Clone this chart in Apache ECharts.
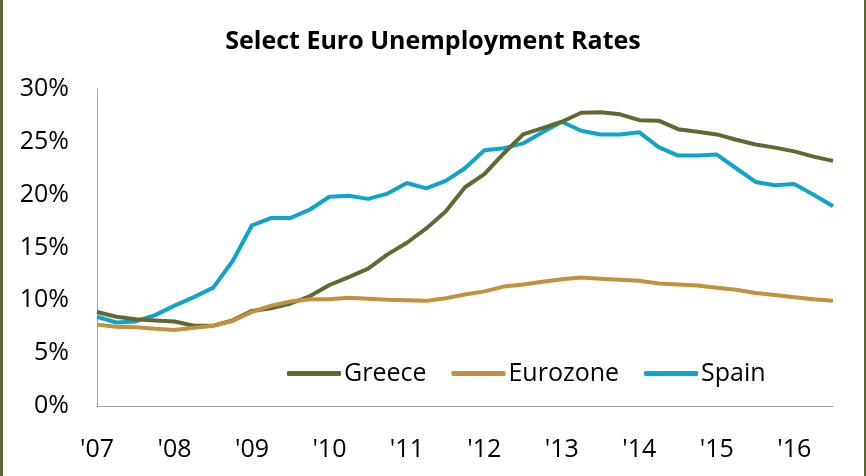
<!DOCTYPE html>
<html>
<head>
<meta charset="utf-8">
<script src="https://cdn.jsdelivr.net/npm/echarts@6/dist/echarts.min.js"></script>
<style>
html,body{margin:0;padding:0;background:#fff;}
#wrap{position:relative;width:866px;height:476px;box-sizing:border-box;border-left:3px solid #5b6236;border-right:2px solid #5b6236;}
#chart{position:absolute;left:-3px;top:0;width:866px;height:476px;}
</style>
</head>
<body>
<div id="wrap"><div id="chart"></div></div>
<script>
// Quarterly, 2007 Q1 .. 2016 Q3
const quarters = [
 '2007Q1','2007Q2','2007Q3','2007Q4','2008Q1','2008Q2','2008Q3','2008Q4',
 '2009Q1','2009Q2','2009Q3','2009Q4','2010Q1','2010Q2','2010Q3','2010Q4',
 '2011Q1','2011Q2','2011Q3','2011Q4','2012Q1','2012Q2','2012Q3','2012Q4',
 '2013Q1','2013Q2','2013Q3','2013Q4','2014Q1','2014Q2','2014Q3','2014Q4',
 '2015Q1','2015Q2','2015Q3','2015Q4','2016Q1','2016Q2','2016Q3'
];
const yearLabels = ["'07","'08","'09","'10","'11","'12","'13","'14","'15","'16"];
const yTickLabels = ['0%','5%','10%','15%','20%','25%','30%'];

const greece = [8.9,8.45,8.2,8.1,8.0,7.6,7.6,8.1,9.0,9.25,9.7,10.4,11.45,12.2,13.0,14.35,
  15.45,16.8,18.4,20.7,21.95,23.9,25.7,26.3,26.9,27.75,27.8,27.6,27.05,27.0,26.2,25.95,
  25.7,25.2,24.75,24.45,24.1,23.6,23.2];
const eurozone = [7.7,7.5,7.45,7.3,7.2,7.4,7.6,8.05,8.9,9.5,9.9,10.1,10.1,10.25,10.15,10.05,
  10.0,9.95,10.2,10.55,10.85,11.3,11.5,11.75,12.0,12.15,12.05,11.95,11.85,11.6,11.5,11.4,
  11.2,11.0,10.7,10.5,10.3,10.1,9.95];
const spain = [8.45,7.9,8.0,8.6,9.5,10.3,11.2,13.7,17.1,17.8,17.8,18.6,19.8,19.9,19.6,20.1,
  21.1,20.6,21.3,22.5,24.2,24.4,24.85,25.9,26.9,26.05,25.7,25.7,25.9,24.5,23.7,23.7,
  23.8,22.5,21.2,20.9,21.0,20.0,18.9];

const FONT = "'Open Sans', 'Noto Sans', sans-serif";
const chart = echarts.init(document.getElementById('chart'));
chart.setOption({
  animation: false,
  backgroundColor: 'transparent',
  title: {
    text: 'Select Euro Unemployment Rates',
    left: 'center', top: 24,
    textStyle: {fontFamily: FONT, fontWeight: 'bold', fontSize: 25, color: '#000'}
  },
  legend: {
    left: 287, top: 361, itemGap: 25, itemWidth: 54, itemHeight: 5,
    icon: 'roundRect', padding: 0,
    textStyle: {fontFamily: FONT, fontSize: 25, color: '#000', padding: [0,0,0,-2]},
    data: ['Greece','Eurozone','Spain']
  },
  grid: {left: 97, right: 33, top: 89, bottom: 70},
  xAxis: {
    type: 'category', data: quarters, boundaryGap: false,
    axisLine: {lineStyle: {color: '#a6a6a6', width: 1}},
    axisTick: {show: false},
    axisLabel: {
      interval: 3, margin: 31, color: '#000', fontFamily: FONT, fontSize: 25,
      formatter: (v, i) => yearLabels[Math.floor(i / 4)]
    },
    splitLine: {show: false}
  },
  yAxis: {
    type: 'value', min: 0, max: 30, interval: 5,
    axisLine: {show: true, lineStyle: {color: '#a6a6a6', width: 1}},
    axisTick: {show: false},
    splitLine: {show: false},
    axisLabel: {
      margin: 28, color: '#000', fontFamily: FONT, fontSize: 25,
      formatter: v => yTickLabels[Math.round(v / 5)]
    }
  },
  series: [
    {name: 'Greece', type: 'line', data: greece, symbol: 'none', color: '#5e6a31',
     lineStyle: {width: 4, color: '#5e6a31'}, z: 3},
    {name: 'Eurozone', type: 'line', data: eurozone, symbol: 'none', color: '#c1913f',
     lineStyle: {width: 4, color: '#c1913f'}, z: 4},
    {name: 'Spain', type: 'line', data: spain, symbol: 'none', color: '#12a3cb',
     lineStyle: {width: 4, color: '#12a3cb'}, z: 2}
  ]
});
</script>
</body>
</html>
